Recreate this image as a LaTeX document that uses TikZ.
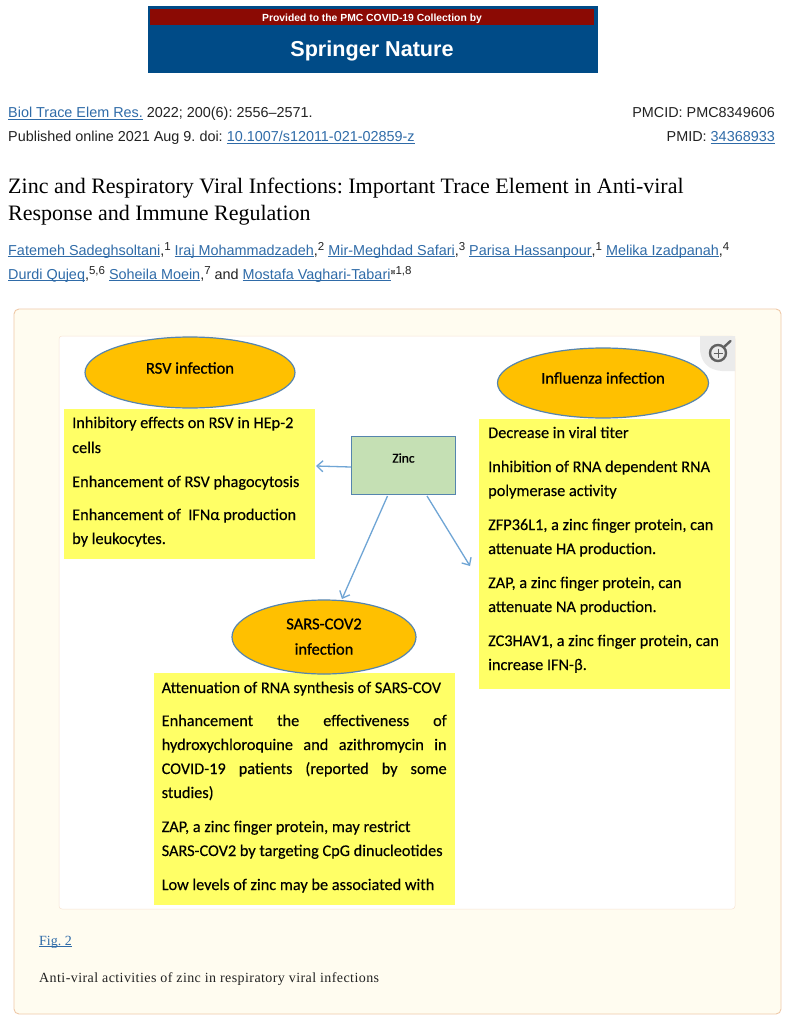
\documentclass[tikz,border=0pt]{standalone}
\usepackage{fontspec}
\setmainfont{Liberation Sans}
\newfontfamily\dgfont[FakeBold=0.2]{Carlito}
\newfontfamily\dgbold[FakeBold=0.7]{Carlito}
\newfontfamily\serifa{Liberation Serif}
\newfontfamily\serifb[LetterSpace=3]{Liberation Serif}
\newfontfamily\symfont{DejaVu Sans}
\usetikzlibrary{shapes.geometric,arrows.meta}
\definecolor{linkc}{HTML}{2F6BA8}
\definecolor{bannerblue}{HTML}{004B87}
\definecolor{bannerred}{HTML}{8B0A04}
\definecolor{cardfill}{HTML}{FFFCF0}
\definecolor{cardline}{HTML}{EFC9A8}
\definecolor{ell}{HTML}{FFC000}
\definecolor{ellline}{HTML}{5585AE}
\definecolor{yel}{HTML}{FFFF66}
\definecolor{zincfill}{HTML}{C5E0B4}
\definecolor{arrowc}{HTML}{6FA5D5}
\definecolor{txt}{HTML}{222222}
\newsavebox{\lkbox}
\newcommand{\lk}[1]{\textcolor{linkc}{\sbox{\lkbox}{#1}\rlap{\rule[-2pt]{\wd\lkbox}{0.8pt}}\usebox{\lkbox}}}
\newcommand{\sps}[1]{\raisebox{5pt}{\fontsize{11.5}{13}\selectfont #1}}
\frenchspacing
\tikzset{
  x=1pt,y=-1pt,
  web/.style={anchor=base west,inner sep=0pt,text=txt,font=\fontsize{14.4}{16}\selectfont\frenchspacing},
  webr/.style={web,anchor=base east},
  titletext/.style={anchor=base west,inner sep=0pt,text=black,font=\serifa\fontsize{22}{25}\selectfont\frenchspacing},
  dg/.style={anchor=base west,inner sep=0pt,text=black,font=\dgfont\fontsize{16.3}{18}\selectfont\frenchspacing},
  dgc/.style={anchor=center,inner sep=0pt,text=black,font=\dgbold\fontsize{16.5}{18}\selectfont\frenchspacing},
  capt/.style={anchor=base west,inner sep=0pt,text=txt,font=\serifb\fontsize{14}{16}\selectfont\frenchspacing},
  figlink/.style={anchor=base west,inner sep=0pt,text=txt,font=\serifa\fontsize{14}{16}\selectfont\frenchspacing},
  oval/.style={ellipse,draw=ellline,fill=ell,line width=1.2pt,inner sep=0pt},
  yellowbox/.style={fill=yel,draw=none,inner sep=0pt},
  arr/.style={draw=arrowc,line width=1.3pt,-{Straight Barb[length=6pt,width=11pt]}},
}
\begin{document}
\begin{tikzpicture}
\useasboundingbox (0,0) rectangle (789,1019);
\fill[white] (0,0) rectangle (789,1019);
% banner
\fill[bannerblue] (148,6) rectangle (598,73);
\fill[bannerred] (150,9) rectangle (594,25.5);
\node[anchor=center,inner sep=0pt,text=white,font=\bfseries\fontsize{10.35}{13}\selectfont] (bannertop) at (372,18.5) {Provided to the PMC COVID-19 Collection by};
\node[anchor=center,inner sep=0pt,text=white,font=\bfseries\fontsize{21.6}{24}\selectfont] (bannermain) at (372,51) {Springer Nature};
% citation
\node[web] (c1) at (8,117.5) {\lk{Biol Trace Elem Res.} 2022; 200(6): 2556–2571.};
\node[web] (c2) at (8,141.5) {Published online 2021 Aug 9. doi: \lk{10.1007/s12011-021-02859-z}};
\node[webr] (c3) at (775,117.5) {PMCID: PMC8349606};
\node[webr] (c4) at (775,141.5) {PMID: \lk{34368933}};
% title
\node[titletext] (t1) at (8,193.5) {Zinc and Respiratory Viral Infections: Important Trace Element in Anti-viral};
\node[titletext] (t2) at (8,220.5) {Response and Immune Regulation};
% authors
\node[web] (a1) at (8,255) {\lk{Fatemeh Sadeghsoltani},\sps{1} \lk{Iraj Mohammadzadeh},\sps{2} \lk{Mir-Meghdad Safari},\sps{3} \lk{Parisa Hassanpour},\sps{1} \lk{Melika Izadpanah},\sps{4}};
\node[web] (a2) at (8,279) {\lk{Durdi Qujeq},\sps{5,6} \lk{Soheila Moein},\sps{7} and \lk{Mostafa Vaghari-Tabari}\sps{{\symfont\fontsize{6}{7}\selectfont ⊠}1,8}};
% card
\draw[fill=cardfill,draw=cardline,line width=0.9pt,rounded corners=5pt] (14,309) rectangle (781,1014);
\draw[fill=white,draw=cardline!50,line width=0.5pt,rounded corners=3pt] (59,336) rectangle (735,909);
% yellow boxes
\node[yellowbox,minimum width=251pt,minimum height=150pt] (rsvbox) at (189.5,484) {};
\node[yellowbox,minimum width=251pt,minimum height=270pt] (flubox) at (604.5,554) {};
\node[yellowbox,minimum width=301pt,minimum height=232pt] (sarsbox) at (304.5,789) {};
% ovals
\node[oval,minimum width=210pt,minimum height=71pt] (rsvoval) at (190,372.5) {};
\node[dgc] (rsvlab) at (190,368) {RSV infection};
\node[oval,minimum width=211pt,minimum height=70pt] (flooval) at (603,383) {};
\node[dgc] (flulab) at (603,378) {Influenza infection};
\node[oval,minimum width=184pt,minimum height=74pt] (sarsoval) at (324,637) {};
\node[dgc] (sl1) at (324,624) {SARS-COV2};
\node[dgc] (sl2) at (324,649) {infection};
% magnifier
\fill[black!8] (700,336) -- (735,336) -- (735,371) -- (722,371) .. controls (708,370) and (701,362) .. (700,350) -- cycle;
\draw[black!62,line width=2.4pt] (718,353) circle (8pt);
\draw[black!62,line width=2.4pt,line cap=round] (724,347) -- (730.5,341);
\draw[black!62,line width=1pt] (713.5,353) -- (722.5,353) (718,348.5) -- (718,357.5);
% zinc
\node[draw=ellline,fill=zincfill,line width=1.4pt,minimum width=104pt,minimum height=58pt,inner sep=0pt] (zinc) at (403.5,465.5) {};
\node[anchor=center,inner sep=0pt,text=black,font=\dgbold\fontsize{13.5}{15}\selectfont] (zinclab) at (403.5,458) {Zinc};
% connector ends
\coordinate (zs1) at (387.5,496);
\coordinate (zs2) at (427,496);
\coordinate (e1) at (316,466);
\coordinate (e2) at (342,599);
\coordinate (e3) at (470,566);
\draw[arr] (zinc.west |- 0,467) -- (e1);
\draw[arr] (zs1) -- (e2);
\draw[arr] (zs2) -- (e3);
% RSV text
\node[dg] (r1) at (72,428) {Inhibitory effects on RSV in HEp-2};
\node[dg] (r2) at (72,453) {cells};
\node[dg] (r3) at (72,487) {Enhancement of RSV phagocytosis};
\node[dg] (r4) at (72,520) {Enhancement of\ \ IFNα production};
\node[dg] (r5) at (72,544) {by leukocytes.};
% Influenza text
\node[dg] (f1) at (488,438) {Decrease in viral titer};
\node[dg] (f2) at (488,472) {Inhibition of RNA dependent RNA};
\node[dg] (f3) at (488,496) {polymerase activity};
\node[dg] (f4) at (488,530) {ZFP36L1, a zinc finger protein, can};
\node[dg] (f5) at (488,554) {attenuate HA production.};
\node[dg] (f6) at (488,588) {ZAP, a zinc finger protein, can};
\node[dg] (f7) at (488,612) {attenuate NA production.};
\node[dg] (f8) at (488,646) {ZC3HAV1, a zinc finger protein, can};
\node[dg] (f9) at (488,670) {increase IFN-β.};
% SARS text
\node[dg] (s1) at (161.5,693) {Attenuation of RNA synthesis of SARS-COV};
\node[dg] (s2) at (161.5,726) {\hbox to 285pt{Enhancement\hfill the\hfill effectiveness\hfill of}};
\node[dg] (s3) at (161.5,750) {\hbox to 285pt{hydroxychloroquine\hfill and\hfill azithromycin\hfill in}};
\node[dg] (s4) at (161.5,774) {\hbox to 285pt{COVID-19\hfill patients\hfill (reported\hfill by\hfill some}};
\node[dg] (s5) at (161.5,798) {studies)};
\node[dg] (s6) at (161.5,832) {ZAP, a zinc finger protein, may restrict};
\node[dg] (s7) at (161.5,856) {SARS-COV2 by targeting CpG dinucleotides};
\node[dg] (s8) at (161.5,890) {Low levels of zinc may be associated with};
% caption
\node[figlink] (figl) at (39,945) {\lk{Fig. 2}};
\node[capt] (capl) at (39,982) {Anti-viral activities of zinc in respiratory viral infections};
\end{tikzpicture}
\end{document}
